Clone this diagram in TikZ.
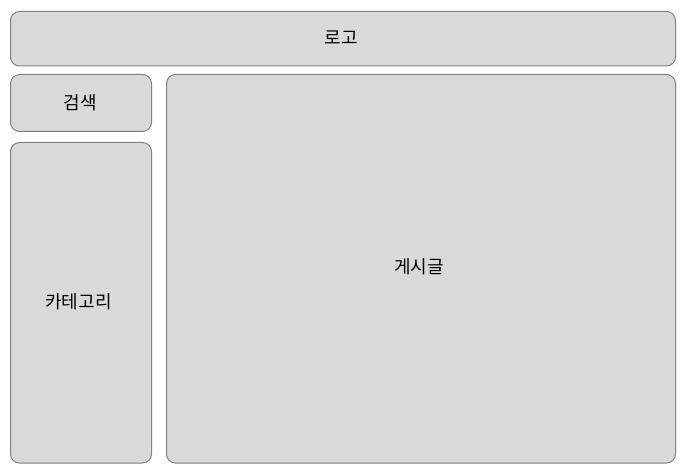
\documentclass[tikz,border=0pt]{standalone}
\usepackage{fontspec}
\newfontfamily\kr{Noto Sans CJK KR}
\definecolor{boxfill}{HTML}{D9D9D9}
\definecolor{boxline}{HTML}{808080}
\tikzset{
  panel/.style={draw=boxline, fill=boxfill, line width=1pt, rounded corners=9pt},
  lbl/.style={font=\kr\fontsize{18pt}{20pt}\selectfont, text=black, inner sep=0pt}
}
\begin{document}
\begin{tikzpicture}[x=1pt,y=-1pt]
\useasboundingbox (0,0) rectangle (683,468);
\draw[panel] (10.5,11.5) rectangle (675.5,66);
\draw[panel] (10.5,74.5) rectangle (151.5,131.5);
\draw[panel] (10.5,142.5) rectangle (151.5,463);
\draw[panel] (166.5,74.5) rectangle (675.5,463);
\node[lbl] (logo) at (341.5,37.5) {로고};
\node[lbl] (search) at (80,102.5) {검색};
\node[lbl] (cat) at (78.5,301.5) {카테고리};
\node[lbl] (post) at (419,266.5) {게시글};
\end{tikzpicture}
\end{document}
